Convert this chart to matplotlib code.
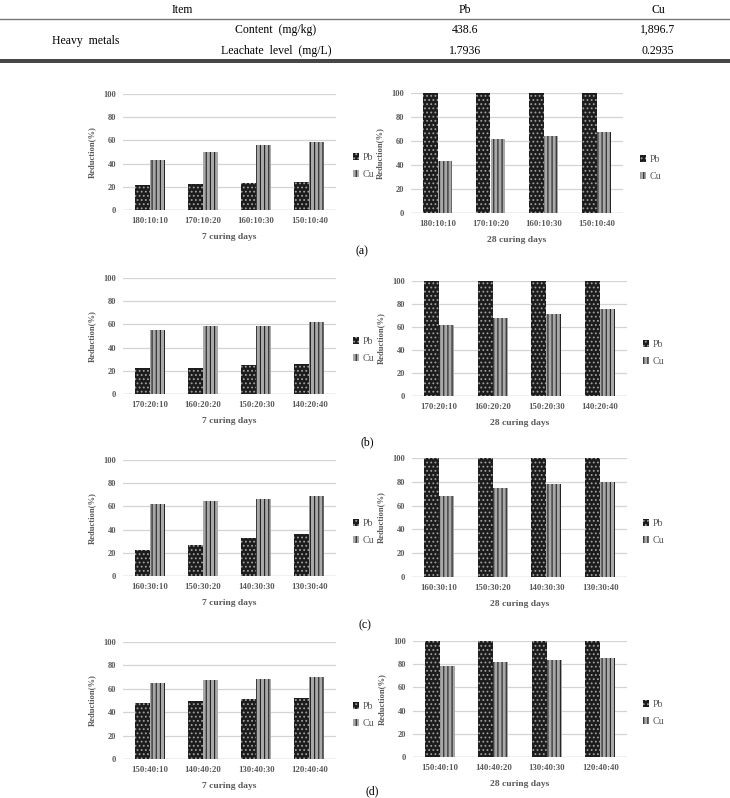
import matplotlib
matplotlib.use("Agg")
import matplotlib.pyplot as plt
import numpy as np

W, H = 730, 798

# table
table_cols = ["Item", "Pb", "Cu"]
table_group = "Heavy  metals"
table_rows = ["Content  (mg/kg)", "Leachate  level  (mg/L)"]
table_pb = ["438.6", "1.7936"]
table_cu = ["1,896.7", "0.2935"]

# reduction (%) data
ratios_a = ["180:10:10", "170:10:20", "160:10:30", "150:10:40"]
pb_a7 = [21.8, 22.4, 23.2, 24.4]
cu_a7 = [43.0, 50.1, 55.8, 58.6]
pb_a28 = [100, 100, 100, 100]
cu_a28 = [43.0, 61.9, 63.9, 67.5]

ratios_b = ["170:20:10", "160:20:20", "150:20:30", "140:20:40"]
pb_b7 = [22.0, 22.6, 24.6, 26.0]
cu_b7 = [54.9, 58.3, 58.9, 62.0]
pb_b28 = [100, 100, 100, 100]
cu_b28 = [62.1, 67.9, 71.7, 75.4]

ratios_c = ["160:30:10", "150:30:20", "140:30:30", "130:30:40"]
pb_c7 = [22.4, 26.4, 32.4, 35.8]
cu_c7 = [62.5, 64.8, 66.5, 69.3]
pb_c28 = [100, 100, 100, 100]
cu_c28 = [68.1, 74.4, 78.4, 80.1]

ratios_d = ["150:40:10", "140:40:20", "130:40:30", "120:40:40"]
pb_d7 = [47.5, 49.5, 51.2, 52.5]
cu_d7 = [65.3, 67.2, 68.3, 69.7]
pb_d28 = [100, 100, 100, 100]
cu_d28 = [78.3, 81.7, 83.4, 85.1]

plt.rcParams["font.family"] = ["Liberation Serif", "DejaVu Serif"]
plt.rcParams["hatch.linewidth"] = 0.8

fig = plt.figure(figsize=(W / 100, H / 100), dpi=100)


def fx(x):
    return x / W


def fy(y):
    return 1 - y / H


# ---- table ----
fig.text(fx(182), fy(10), table_cols[0], ha="center", va="center", fontsize=8.5)
fig.text(fx(465), fy(10), table_cols[1], ha="center", va="center", fontsize=8.5)
fig.text(fx(658), fy(10), table_cols[2], ha="center", va="center", fontsize=8.5)
fig.add_artist(plt.Line2D([0, 1], [fy(19), fy(19)], color="#777777", lw=1.0))
fig.text(fx(86), fy(41), table_group, ha="center", va="center", fontsize=8.5)
for i, yy in enumerate([30, 51]):
    fig.text(fx(276), fy(yy), table_rows[i], ha="center", va="center", fontsize=8.5)
    fig.text(fx(465), fy(yy), table_pb[i], ha="center", va="center", fontsize=8.5)
    fig.text(fx(658), fy(yy), table_cu[i], ha="center", va="center", fontsize=8.5)
fig.add_artist(plt.Line2D([0, 1], [fy(59.5), fy(59.5)], color="#222222", lw=1.2))
fig.add_artist(plt.Line2D([0, 1], [fy(61.5), fy(61.5)], color="#222222", lw=1.2))

GRAY = "#595959"


def panel(x0, x1, ytop, ybot, labels, pb, cu, xlabel, leg_x, leg_y):
    ax = fig.add_axes([fx(x0), fy(ybot), (x1 - x0) / W, (ybot - ytop) / H])
    x = np.arange(len(labels))
    w = 0.28
    ax.bar(x - w / 2, pb, w, facecolor="#1c1c1c", edgecolor="#a0a0a0",
           hatch="....", linewidth=0, label="Pb", zorder=3)
    ax.bar(x + w / 2, cu, w, facecolor="#a8a8a8", edgecolor="#222222",
           hatch="||||", linewidth=0, label="Cu", zorder=3)
    ax.set_xlim(-0.5, len(labels) - 0.5)
    ax.set_ylim(0, 100)
    ax.set_yticks([0, 20, 40, 60, 80, 100])
    ax.set_xticks(x)
    ax.set_xticklabels(labels, fontsize=6.3, fontweight="bold", color=GRAY)
    for t in ax.get_yticklabels():
        t.set_fontsize(6)
        t.set_fontweight("bold")
        t.set_color(GRAY)
    ax.grid(axis="y", color="#d4d4d4", lw=0.9, zorder=0)
    for s in ax.spines.values():
        s.set_visible(False)
    ax.axhline(0, color="#cccccc", lw=1.0, zorder=2)
    ax.tick_params(length=0, pad=5)
    ax.tick_params(axis="x", pad=5)
    ax.set_ylabel("Reduction(%)", fontsize=6.2, fontweight="bold", color=GRAY, labelpad=5)
    ax.set_xlabel(xlabel, fontsize=6.8, fontweight="bold", color=GRAY, labelpad=6)
    ax.legend(loc="center left", bbox_to_anchor=(fx(leg_x), fy(leg_y)),
              bbox_transform=fig.transFigure, frameon=False, fontsize=7.2,
              handlelength=0.55, handleheight=0.6, handletextpad=0.4,
              labelspacing=0.8, labelcolor=GRAY)
    return ax


panel(123, 336, 94, 210, ratios_a, pb_a7, cu_a7, "7 curing days", 344, 166)
panel(411, 623, 93, 213, ratios_a, pb_a28, cu_a28, "28 curing days", 631, 168)
panel(123, 336, 278, 394, ratios_b, pb_b7, cu_b7, "7 curing days", 344, 350)
panel(412, 627, 281, 396, ratios_b, pb_b28, cu_b28, "28 curing days", 634, 353)
panel(123, 336, 460, 576, ratios_c, pb_c7, cu_c7, "7 curing days", 344, 532)
panel(412, 627, 458, 577, ratios_c, pb_c28, cu_c28, "28 curing days", 634, 532)
panel(123, 336, 642, 759, ratios_d, pb_d7, cu_d7, "7 curing days", 344, 715)
panel(413, 627, 641, 757, ratios_d, pb_d28, cu_d28, "28 curing days", 634, 713)

for lab, xx, yy in [("(a)", 362, 251), ("(b)", 367, 442), ("(c)", 365, 625), ("(d)", 372, 791)]:
    fig.text(fx(xx), fy(yy), lab, ha="center", va="center", fontsize=8.5)

fig.savefig("out.png", dpi=100)
